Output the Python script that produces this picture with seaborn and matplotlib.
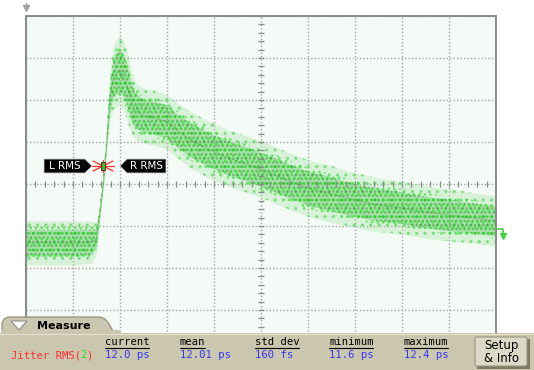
import numpy as np
import matplotlib
matplotlib.use("Agg")
import matplotlib.pyplot as plt
from matplotlib.patches import Polygon, Rectangle, FancyBboxPatch
import seaborn as sns

sns.set_style("white")
plt.rcParams["font.family"] = ["DejaVu Sans"]
plt.rcParams["hatch.linewidth"] = 1.2

# Persistence trace, in screen divisions (10 x 8 graticule)
time_div = [0.0, 0.3, 0.7, 1.1, 1.4, 1.5, 1.57, 1.64, 1.7, 1.78, 1.85, 1.93,
            2.0, 2.07, 2.15, 2.23, 2.32, 2.5, 2.75, 3.0, 3.2, 3.5, 3.9, 4.3,
            4.8, 5.2, 5.6, 6.0, 6.5, 6.9, 7.4, 8.0, 8.5, 9.0, 9.5, 10.0]
level_div = [-1.40, -1.40, -1.40, -1.40, -1.38, -1.29, -0.67, 0.0, 0.76, 2.00,
             2.50, 2.65, 2.70, 2.60, 2.35, 2.00, 1.75, 1.62, 1.57, 1.48, 1.29,
             1.05, 0.81, 0.62, 0.43, 0.26, 0.07, -0.10, -0.24, -0.36, -0.48,
             -0.57, -0.67, -0.74, -0.81, -0.88]
spread_div = [0.42, 0.42, 0.42, 0.42, 0.40, 0.30, 0.15, 0.15, 0.18, 0.40,
              0.60, 0.66, 0.66, 0.66, 0.66, 0.60, 0.55, 0.52, 0.52, 0.52,
              0.52, 0.54, 0.54, 0.54, 0.54, 0.54, 0.54, 0.54, 0.54, 0.52,
              0.52, 0.50, 0.50, 0.50, 0.48, 0.48]

# Measurement readout
meas_name = "Jitter RMS("
meas_channel = "2"
col_headers = ["current", "mean", "std dev", "minimum", "maximum"]
col_values = ["12.0 ps", "12.01 ps", "160 fs", "11.6 ps", "12.4 ps"]

W, H = 534, 370
fig = plt.figure(figsize=(W / 100, H / 100), dpi=100)
fig.patch.set_facecolor("white")

# graticule area in pixels
L, R, T, B = 26, 496, 16, 352
ax = fig.add_axes([L / W, 1 - B / H, (R - L) / W, (B - T) / H])
ax.set_xlim(0, 10)
ax.set_ylim(-4, 4)
ax.set_facecolor("#f4faf6")


def px(x, y):
    return (x - L) / 47.0, (184 - y) / 42.0


t = np.array(time_div)
c = np.array(level_div)
s = np.array(spread_div)

# outer haze
ax.fill_between(t, c - 1.25 * s, c + 1.25 * s, color="#8fe08f", alpha=0.28, lw=0)
ax.fill_between(t, c - 1.25 * s, c + 1.25 * s, facecolor="none",
                edgecolor="#55d455", hatch="..", lw=0, alpha=0.55)
# dense core
ax.fill_between(t, c - 0.75 * s, c + 0.75 * s, color="#3ec43e", alpha=0.32, lw=0)
ax.fill_between(t, c - 0.75 * s, c + 0.75 * s, facecolor="none",
                edgecolor="#1a7a1a", hatch="....", lw=0, alpha=0.4)
ax.fill_between(t, c - 0.9 * s, c + 0.9 * s, facecolor="none",
                edgecolor="#22e022", hatch="...", lw=0, alpha=0.6)
sns.lineplot(x=t, y=c, ax=ax, color="#2a8a2a", lw=0.8, alpha=0.3)

# graticule
ax.set_xticks(np.arange(0, 11, 1))
ax.set_yticks(np.arange(-4, 5, 1))
ax.tick_params(length=0, labelbottom=False, labelleft=False)
ax.grid(True, color="#a6a6a6", linestyle=(0, (1, 1.5)), lw=1.0)
minor = np.arange(0, 10.01, 0.2)
ax.plot(minor, np.zeros_like(minor), ls="none", marker="|", ms=4,
        color="#8c8c8c", mew=0.9)
vminor = np.arange(-4, 4.01, 0.2)
ax.plot(np.full_like(vminor, 5.0), vminor, ls="none", marker="_", ms=4,
        color="#8c8c8c", mew=0.9)
for side in ["left", "top", "right"]:
    ax.spines[side].set_color("#8a8a8a")
    ax.spines[side].set_linewidth(1.4)
ax.spines["bottom"].set_visible(False)

# RMS cursor labels and crossing marker
lbox = [px(44, 159), px(85, 159), px(92, 166), px(85, 173), px(44, 173)]
rbox = [px(120, 166), px(127, 159), px(166, 159), px(166, 173), px(127, 173)]
for pts in (lbox, rbox):
    ax.add_patch(Polygon(pts, closed=True, facecolor="black", edgecolor="#cfcfcf",
                         lw=0.6, zorder=6))
ax.text(*px(65, 166), "L RMS", color="white", fontsize=7.5, ha="center",
        va="center", zorder=7)
ax.text(*px(146.5, 166), "R RMS", color="white", fontsize=7.5, ha="center",
        va="center", zorder=7)
cx, cy = 103, 166
for dx, dy in [(11, 0), (10, 5), (10, -5), (0, 6)]:
    x0, y0 = px(cx - dx, cy - dy)
    x1, y1 = px(cx + dx, cy + dy)
    ax.plot([x0, x1], [y0, y1], color="#ff3030", lw=0.9, zorder=7)
rx0, ry0 = px(cx - 2, cy + 4)
ax.add_patch(Rectangle((rx0, ry0), 4 / 47, 8 / 42, facecolor="#30c030",
                       edgecolor="#702020", lw=0.7, zorder=8))

# overlay in pixel space for markers and the measurement panel
ov = fig.add_axes([0, 0, 1, 1], zorder=10)
ov.set_xlim(0, W)
ov.set_ylim(H, 0)
ov.axis("off")
ov.patch.set_visible(False)

ov.plot([26], [8], marker="v", ms=5, color="#a0a0a0")
ov.plot([26, 26], [3, 8], color="#a0a0a0", lw=1)
ov.plot([497, 503, 503], [229, 229, 234], color="#44d444", lw=1.2)
ov.plot([503], [236], marker="v", ms=5, color="#44d444")

panel = "#cbc7ae"
ov.add_patch(Rectangle((0, 333), W, 37, facecolor=panel, edgecolor="none"))
ov.plot([0, W], [333.5, 333.5], color="#e4e1d0", lw=0.8)
tab = [(2, 334), (2, 323), (4, 319), (8, 317), (100, 317), (105, 319),
       (109, 324), (113, 331), (118, 334)]
ov.add_patch(Polygon(tab, closed=True, facecolor=panel, edgecolor="#8c8873",
                     lw=0.8))
ov.add_patch(Rectangle((1, 330), 120, 6, facecolor=panel, edgecolor="none"))
ov.add_patch(Polygon([(11, 321), (27, 321), (19, 330)], closed=True,
                     facecolor="white", edgecolor="#8c8c8c", lw=0.8))
ov.text(37, 326, "Measure", fontsize=8, fontweight="bold", color="black",
        va="center", ha="left")
ov.text(103, 326, "✕", fontsize=9, color="white", va="center", ha="center",
        fontweight="bold")
ov.text(103, 326, "✕", fontsize=9, color="#8a8a8a", va="center", ha="center",
        alpha=0.5)

mono = "DejaVu Sans Mono"
cw = 6.3
ov.text(11, 355, meas_name, family=mono, fontsize=7.6, color="#ff2a2a",
        va="center", ha="left")
ov.text(11 + cw * len(meas_name), 355, meas_channel, family=mono, fontsize=7.6,
        color="#22dd22", va="center", ha="left")
ov.text(11 + cw * (len(meas_name) + 1), 355, ")", family=mono, fontsize=7.6,
        color="#ff2a2a", va="center", ha="left")
col_x = [105, 180, 255, 329, 404]
for x, hd, val in zip(col_x, col_headers, col_values):
    ov.text(x, 342, hd, family=mono, fontsize=7.6, color="black",
            va="center", ha="left")
    ov.plot([x, x + cw * len(hd)], [347.5, 347.5], color="black", lw=0.8)
    ov.text(x, 355, val, family=mono, fontsize=7.6, color="#3434ff",
            va="center", ha="left")

ov.add_patch(Rectangle((477, 339), 53, 30, facecolor="#7d7a68", edgecolor="none"))
ov.add_patch(FancyBboxPatch((475, 337), 52, 29,
                            boxstyle="round,pad=0,rounding_size=2",
                            facecolor="#dcd9c6", edgecolor="#9a9680", lw=0.8))
ov.text(501, 352, "Setup\n& Info", fontsize=8.5, color="black", ha="center",
        va="center", linespacing=1.0)

fig.savefig("out.png", dpi=100)
